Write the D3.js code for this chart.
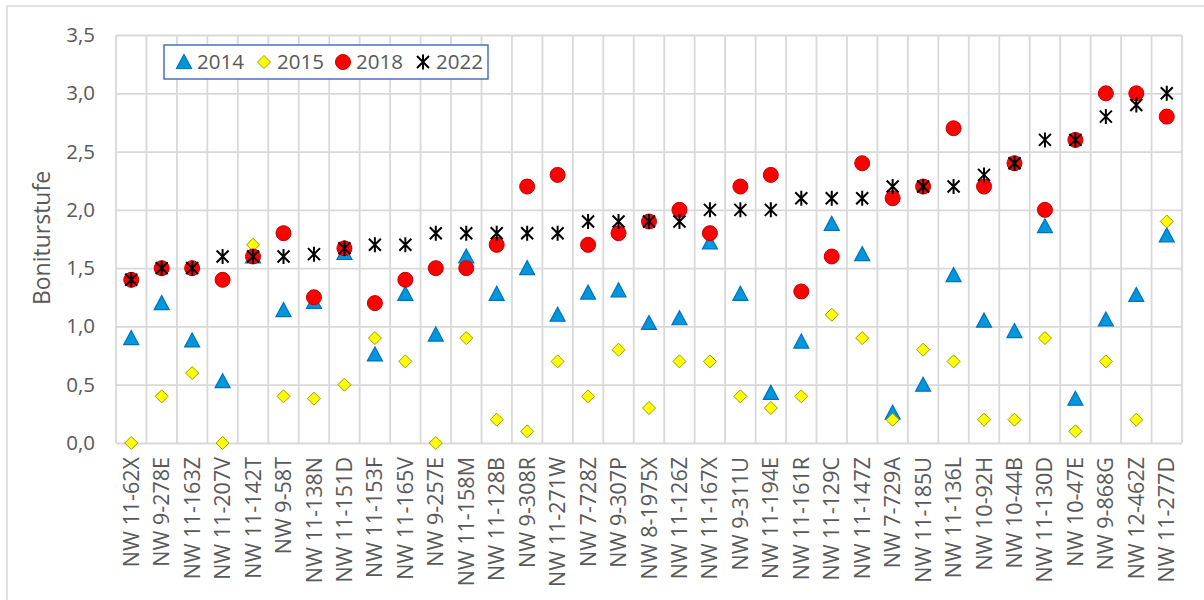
<!DOCTYPE html>
<html>
<head>
<meta charset="utf-8">
<script src="https://cdn.jsdelivr.net/npm/d3@7"></script>
<style>
  body { margin: 0; background: #fff; }
  svg text { font-family: "Open Sans", "Noto Sans", sans-serif; fill: #595959; }
</style>
</head>
<body>
<svg id="chart" width="1204" height="600"></svg>
<script>
const categories = [
  'NW 11-62X', 'NW 9-278E', 'NW 11-163Z', 'NW 11-207V', 'NW 11-142T', 'NW 9-58T',
  'NW 11-138N', 'NW 11-151D', 'NW 11-153F', 'NW 11-165V', 'NW 9-257E', 'NW 11-158M',
  'NW 11-128B', 'NW 9-308R', 'NW 11-271W', 'NW 7-728Z', 'NW 9-307P', 'NW 8-1975X',
  'NW 11-126Z', 'NW 11-167X', 'NW 9-311U', 'NW 11-194E', 'NW 11-161R', 'NW 11-129C',
  'NW 11-147Z', 'NW 7-729A', 'NW 11-185U', 'NW 11-136L', 'NW 10-92H', 'NW 10-44B',
  'NW 11-130D', 'NW 10-47E', 'NW 9-868G', 'NW 12-462Z', 'NW 11-277D'
];
const v2014 = [0.90, 1.20, 0.88, 0.53, 1.60, 1.14, 1.21, 1.63, 0.76, 1.28, 0.93, 1.60,
  1.28, 1.50, 1.10, 1.29, 1.31, 1.03, 1.07, 1.72, 1.28, 0.43, 0.87, 1.88, 1.62, 0.26,
  0.50, 1.44, 1.05, 0.96, 1.86, 0.38, 1.06, 1.27, 1.78];
const v2015 = [0.0, 0.4, 0.6, 0.0, 1.7, 0.4, 0.38, 0.5, 0.9, 0.7, 0.0, 0.9, 0.2, 0.1,
  0.7, 0.4, 0.8, 0.3, 0.7, 0.7, 0.4, 0.3, 0.4, 1.1, 0.9, 0.2, 0.8, 0.7, 0.2, 0.2, 0.9,
  0.1, 0.7, 0.2, 1.9];
const v2018 = [1.4, 1.5, 1.5, 1.4, 1.6, 1.8, 1.25, 1.67, 1.2, 1.4, 1.5, 1.5, 1.7, 2.2,
  2.3, 1.7, 1.8, 1.9, 2.0, 1.8, 2.2, 2.3, 1.3, 1.6, 2.4, 2.1, 2.2, 2.7, 2.2, 2.4, 2.0,
  2.6, 3.0, 3.0, 2.8];
const v2022 = [1.4, 1.5, 1.5, 1.6, 1.6, 1.6, 1.62, 1.67, 1.7, 1.7, 1.8, 1.8, 1.8, 1.8,
  1.8, 1.9, 1.9, 1.9, 1.9, 2.0, 2.0, 2.0, 2.1, 2.1, 2.1, 2.2, 2.2, 2.2, 2.3, 2.4, 2.6,
  2.6, 2.8, 2.9, 3.0];
const yTicks = [0, 0.5, 1, 1.5, 2, 2.5, 3, 3.5];

const svg = d3.select('#chart');
const plot = { left: 116, right: 1182, top: 35, bottom: 443 };
const gridColor = '#d9d9d9';

// outer chart border (runs off the right/bottom of the picture)
svg.append('rect')
  .attr('x', 7).attr('y', 6)
  .attr('width', 1220).attr('height', 620)
  .attr('fill', 'none')
  .attr('stroke', gridColor)
  .attr('stroke-width', 1.5);

const x = d3.scaleBand().domain(categories).range([plot.left, plot.right]).padding(0);
const y = d3.scaleLinear().domain([0, 3.5]).range([plot.bottom, plot.top]);
const fmt = v => d3.format('.1f')(v).replace('.', ',');

// horizontal grid + y labels
const yAxis = svg.append('g')
  .attr('transform', `translate(${plot.left},0)`)
  .call(d3.axisLeft(y).tickValues(yTicks).tickFormat(fmt)
    .tickSize(-(plot.right - plot.left)).tickPadding(21));
yAxis.select('.domain').remove();
yAxis.selectAll('.tick line').attr('stroke', gridColor).attr('stroke-width', 1.8);
yAxis.selectAll('.tick text')
  .attr('font-size', 20.5)
  .attr('fill', '#595959')
  .attr('font-family', '"Open Sans", sans-serif');

// vertical grid at category boundaries
const bounds = categories.map(c => x(c)).concat([plot.right]);
svg.append('g').selectAll('line')
  .data(bounds)
  .join('line')
  .attr('x1', d => d).attr('x2', d => d)
  .attr('y1', plot.top).attr('y2', plot.bottom)
  .attr('stroke', gridColor)
  .attr('stroke-width', 1.8);

// x labels
const xAxis = svg.append('g')
  .attr('transform', `translate(0,${plot.bottom})`)
  .call(d3.axisBottom(x).tickSize(0).tickPadding(0));
xAxis.select('.domain').remove();
xAxis.selectAll('.tick text')
  .attr('font-size', 21.5)
  .attr('fill', '#595959')
  .attr('font-family', '"Open Sans", sans-serif')
  .attr('transform', 'rotate(-90)')
  .attr('x', -14)
  .attr('y', 0)
  .attr('dy', '0.35em')
  .style('text-anchor', 'end');

// y title
svg.append('text')
  .attr('transform', 'translate(42,238) rotate(-90)')
  .attr('text-anchor', 'middle')
  .attr('dy', '0.35em')
  .attr('font-size', 23)
  .text('Boniturstufe');

// marker shapes
const shapes = {
  triangle: 'M0,-7.5L7.5,6.5L-7.5,6.5Z',
  diamond: 'M0,-6.5L6.5,0L0,6.5L-6.5,0Z',
  circle: d3.symbol(d3.symbolCircle, Math.PI * 7.5 * 7.5)(),
  star: 'M-6,-6L6,6M-6,6L6,-6M0,-7.5L0,7.5'
};

const series = [
  { name: '2014', values: v2014, shape: 'triangle', fill: '#0097DB', stroke: '#0070C0', sw: 1.2 },
  { name: '2015', values: v2015, shape: 'diamond', fill: '#FFFF00', stroke: '#9A9A00', sw: 1 },
  { name: '2018', values: v2018, shape: 'circle', fill: '#FF0000', stroke: '#C00000', sw: 1 },
  { name: '2022', values: v2022, shape: 'star', fill: 'none', stroke: '#000000', sw: 2 }
];

series.forEach(s => {
  svg.append('g').selectAll('path')
    .data(s.values.map((v, i) => ({ cat: categories[i], v })))
    .join('path')
    .attr('d', shapes[s.shape])
    .attr('transform', d => `translate(${x(d.cat) + x.bandwidth() / 2},${y(d.v)})`)
    .attr('fill', s.fill)
    .attr('stroke', s.stroke)
    .attr('stroke-width', s.sw);
});

// legend
const legend = svg.append('g');
legend.append('rect')
  .attr('x', 164).attr('y', 45)
  .attr('width', 324).attr('height', 34)
  .attr('fill', '#fff')
  .attr('stroke', '#4472C4')
  .attr('stroke-width', 1.5);
const legendX = [184, 264, 343, 423];
series.forEach((s, i) => {
  legend.append('path')
    .attr('d', shapes[s.shape])
    .attr('transform', `translate(${legendX[i]},62)`)
    .attr('fill', s.fill)
    .attr('stroke', s.stroke)
    .attr('stroke-width', s.sw);
  legend.append('text')
    .attr('x', legendX[i] + 13)
    .attr('y', 62)
    .attr('dy', '0.35em')
    .attr('font-size', 20.5)
    .text(s.name);
});
</script>
</body>
</html>
